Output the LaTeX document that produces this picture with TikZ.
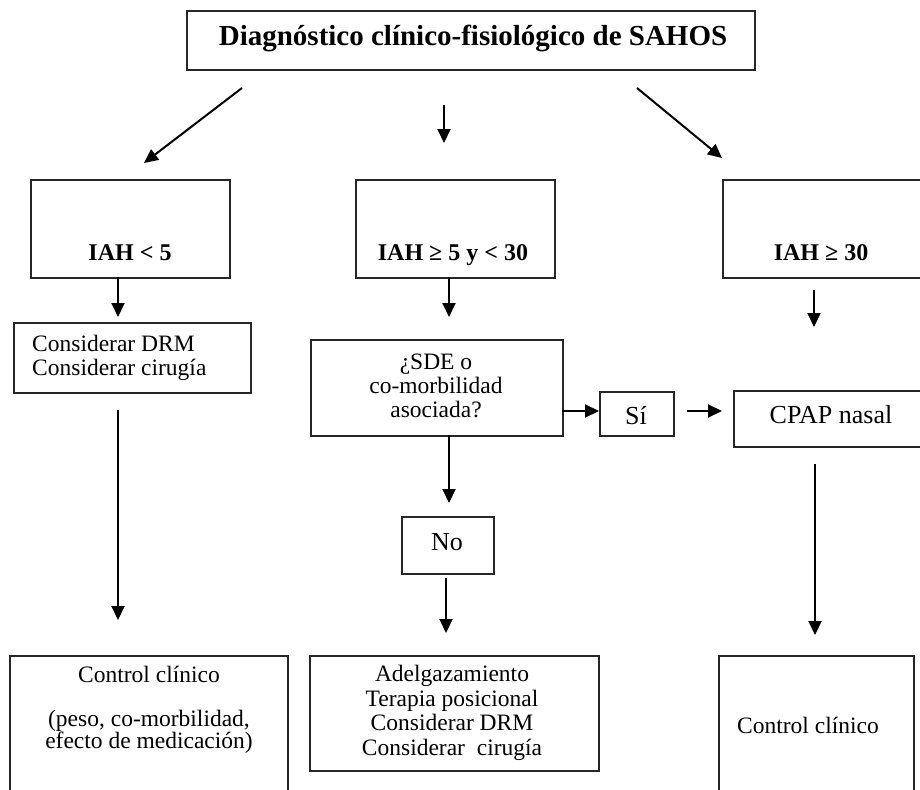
\documentclass[tikz,border=0pt]{standalone}
\usepackage{fontspec}
\setmainfont{Liberation Serif}
\usetikzlibrary{arrows.meta}
\begin{document}
\begin{tikzpicture}[x=1pt,y=-1pt,
  box/.style={draw=black!85, line width=1.6pt, inner sep=0pt, anchor=north west},
  arr/.style={line width=2pt, -{Triangle[length=14pt,width=13pt]}},
  txt/.style={font=\fontsize{23.5}{24}\selectfont, inner sep=0pt},
  btxt/.style={font=\fontsize{24}{26}\selectfont\bfseries, inner sep=0pt},
  big/.style={font=\fontsize{26}{28}\selectfont, inner sep=0pt},
]
\useasboundingbox (0,0) rectangle (920,789);
\clip (0,0) rectangle (920,789);
\fill[white] (0,0) rectangle (920,789);

% boxes
\node[box, minimum width=568pt, minimum height=59pt] (title) at (186,10) {};
\node[box, minimum width=199pt, minimum height=98pt] (b1) at (30,179) {};
\node[box, minimum width=199pt, minimum height=98pt] (b2) at (355,179) {};
\node[box, minimum width=210pt, minimum height=98pt] (b3) at (722,179) {};
\node[box, minimum width=237pt, minimum height=70pt] (drm) at (13,322) {};
\node[box, minimum width=252pt, minimum height=96pt] (sde) at (310,339) {};
\node[box, minimum width=74pt, minimum height=44pt] (si) at (599,391) {};
\node[box, minimum width=200pt, minimum height=56pt] (cpap) at (733,390) {};
\node[box, minimum width=92pt, minimum height=57pt] (no) at (401,516) {};
\node[box, minimum width=278pt, minimum height=160pt] (c1) at (9,655) {};
\node[box, minimum width=289pt, minimum height=115pt] (c2) at (309,655) {};
\node[box, minimum width=195pt, minimum height=160pt] (c3) at (718,655) {};

% texts
\node[inner sep=0pt, font=\fontsize{29}{31}\selectfont\bfseries, anchor=base] (ttitle) at (473,46) {Diagnóstico clínico-fisiológico de SAHOS};
\node[btxt, anchor=base] (t1) at (130,260) {IAH < 5};
\node[btxt, anchor=base] (t2) at (453,260) {IAH ≥ 5 y < 30};
\node[btxt, anchor=base] (t3) at (821,260) {IAH ≥ 30};
\node[txt, anchor=base west, align=left] (tdrm) at (32,375) {Considerar DRM\\Considerar cirugía};
\node[txt, anchor=base, align=center] (tsde) at (436,417) {¿SDE o\\co-morbilidad\\asociada?};
\node[big, anchor=base] (tsi) at (636,424) {Sí};
\node[big, anchor=base] (tcpap) at (831,423) {CPAP nasal};
\node[big, anchor=base] (tno) at (447,550) {No};
\node[txt, anchor=base, align=center, font=\fontsize{23.5}{22}\selectfont] (tc1) at (149,748) {Control clínico\\[22pt](peso, co-morbilidad,\\efecto de medicación)};
\node[txt, anchor=base, align=center, font=\fontsize{23.5}{24.5}\selectfont] (tc2) at (452,755) {Adelgazamiento\\Terapia posicional\\Considerar DRM\\Considerar~ cirugía};
\node[txt, anchor=base west] (tc3) at (737,733) {Control clínico};

% arrow end points
\coordinate (a1s) at (242,88);  \coordinate (a1e) at (144,163);
\coordinate (a2s) at (444,105); \coordinate (a2e) at (444,143);
\coordinate (a3s) at (637,88);  \coordinate (a3e) at (722,158);
\coordinate (a4s) at (118,277); \coordinate (a4e) at (118,317);
\coordinate (a5s) at (449,277); \coordinate (a5e) at (449,317);
\coordinate (a6s) at (814,290); \coordinate (a6e) at (814,327);
\coordinate (a7s) at (118,410); \coordinate (a7e) at (118,620);
\coordinate (a8s) at (562,411); \coordinate (a8e) at (599,411);
\coordinate (a9s) at (687,411); \coordinate (a9e) at (722,411);
\coordinate (a10s) at (815,464); \coordinate (a10e) at (815,635);
\coordinate (a11s) at (449,435); \coordinate (a11e) at (449,503);
\coordinate (a12s) at (446,578); \coordinate (a12e) at (446,633);

\foreach \i in {1,...,12} \draw[arr] (a\i s) -- (a\i e);
\end{tikzpicture}
\end{document}
